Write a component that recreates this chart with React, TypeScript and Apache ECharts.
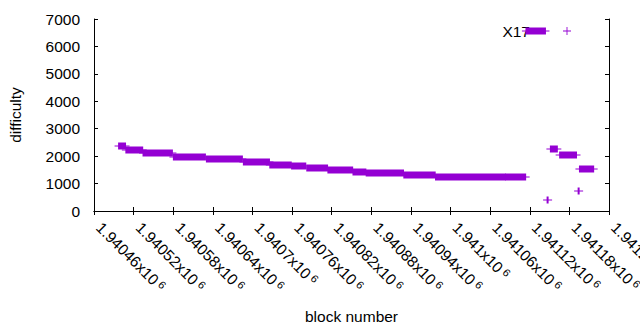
import React, { useEffect, useRef } from "react";
import * as echarts from "echarts";

// Runs of blocks sharing the same difficulty: first block, last block, difficulty
const runStartBlocks = [
  1940498, 1940509, 1940535, 1940581, 1940631, 1940687, 1940727, 1940760,
  1940783, 1940815, 1940853, 1940873, 1940930, 1940978, 1941084, 1941115,
  1941147, 1941152, 1941166, 1941194, 1941196,
];
const runEndBlocks = [
  1940507, 1940533, 1940578, 1940628, 1940684, 1940725, 1940758, 1940780,
  1940813, 1940851, 1940871, 1940928, 1940976, 1941082, 1941113, 1941143,
  1941147, 1941161, 1941190, 1941194, 1941216,
];
const runDifficulty = [
  2360, 2210, 2100, 1970, 1885, 1775, 1690, 1630,
  1555, 1485, 1410, 1370, 1300, 1255, 1230, 6580,
  390, 2250, 2030, 740, 1520,
];

const seriesName = "X17";
const xAxisTitle = "block number";
const yAxisTitle = "difficulty";
const xMin = 1940460;
const xMax = 1941240;
const xStep = 60;
const yMin = 0;
const yMax = 7000;
const yStep = 1000;

const COLOR = "#9400d3";
const FONT = "'Liberation Sans', Arial, sans-serif";
const FS = 15.5;

export default function App() {
  const ref = useRef<HTMLDivElement>(null);
  useEffect(() => {
    if (!ref.current) return;
    const chart = echarts.init(ref.current, null, { renderer: "svg" });
    const data = runStartBlocks.map((s, i) => [s, runEndBlocks[i], runDifficulty[i]]);
    const plusIcon = "path://M0,4H4V0H5V4H9V5H5V9H4V5H0Z";
    const fmtX = (v: number) => {
      const s = parseFloat((v / 1e6).toFixed(5)).toString();
      return `{m|${s}x10}{s|6}`;
    };
    chart.setOption({
      animation: false,
      color: [COLOR],
      textStyle: { fontFamily: FONT },
      grid: { left: 94, right: 31, top: 19, bottom: 119, containLabel: false, outerBoundsMode: "none" },
      legend: {
        data: [{ name: seriesName, icon: plusIcon }],
        right: 64,
        top: 18,
        z: 1,
        align: "right",
        itemWidth: 64,
        itemHeight: 8,
        symbolKeepAspect: true,
        itemStyle: { borderWidth: 0, color: COLOR },
        textStyle: { fontSize: FS, color: "#000", fontFamily: FONT },
        selectedMode: false,
      },
      xAxis: [
        {
          type: "value",
          min: xMin,
          max: xMax,
          interval: xStep,
          name: xAxisTitle,
          nameLocation: "middle",
          nameGap: 97,
          nameTextStyle: { fontSize: FS, color: "#000", fontFamily: FONT },
          axisLine: { show: true, lineStyle: { color: "#000", width: 1 } },
          axisTick: { show: true, inside: true, length: 4, lineStyle: { color: "#000" } },
          splitLine: { show: false },
          axisLabel: {
            rotate: -45,
            margin: 9,
            showMinLabel: true,
            showMaxLabel: true,
            hideOverlap: false,
            formatter: fmtX,
            padding: [0, 0, 0, 7],
            rich: {
              m: { fontSize: FS, color: "#000", fontFamily: FONT },
              s: { fontSize: 11, color: "#000", fontFamily: FONT, verticalAlign: "top", padding: [0, 0, 0, 3] },
            },
          },
        },
        {
          type: "value",
          position: "top",
          min: xMin,
          max: xMax,
          interval: xStep,
          axisLine: { show: true, lineStyle: { color: "#000", width: 1 } },
          axisTick: { show: true, inside: true, length: 4, lineStyle: { color: "#000" } },
          axisLabel: { show: false },
          splitLine: { show: false },
        },
      ],
      yAxis: [
        {
          type: "value",
          min: yMin,
          max: yMax,
          interval: yStep,
          name: yAxisTitle,
          nameLocation: "middle",
          nameGap: 71,
          nameRotate: 90,
          nameTextStyle: { fontSize: FS, color: "#000", fontFamily: FONT },
          axisLine: { show: true, lineStyle: { color: "#000", width: 1 } },
          axisTick: { show: true, inside: true, length: 4, lineStyle: { color: "#000" } },
          splitLine: { show: false },
          axisLabel: {
            margin: 14,
            fontSize: FS,
            color: "#000",
            fontFamily: FONT,
            showMinLabel: true,
            showMaxLabel: true,
            formatter: (v: number) => String(v),
          },
        },
        {
          type: "value",
          position: "right",
          min: yMin,
          max: yMax,
          interval: yStep,
          axisLine: { show: true, lineStyle: { color: "#000", width: 1 } },
          axisTick: { show: true, inside: true, length: 4, lineStyle: { color: "#000" } },
          axisLabel: { show: false },
          splitLine: { show: false },
        },
      ],
      series: [
        {
          name: seriesName,
          type: "custom",
          z: 3,
          xAxisIndex: 0,
          yAxisIndex: 0,
          itemStyle: { color: COLOR },
          encode: { x: [0, 1], y: 2 },
          data,
          renderItem: (params: any, api: any) => {
            const y = api.value(2);
            const a = api.coord([api.value(0), y]);
            const b = api.coord([api.value(1), y]);
            const yc = Math.round(a[1]);
            return {
              type: "group",
              children: [
                {
                  type: "rect",
                  shape: { x: a[0] - 1, y: yc - 3.5, width: b[0] - a[0] + 2, height: 7 },
                  style: { fill: COLOR },
                },
                {
                  type: "line",
                  shape: { x1: a[0] - 4.5, y1: yc, x2: b[0] + 4.5, y2: yc },
                  style: { stroke: COLOR, lineWidth: 1 },
                },
              ],
            };
          },
        },
      ],
    });
    return () => chart.dispose();
  }, []);
  return (
    <div
      ref={ref}
      style={{ position: "fixed", left: 0, top: 0, width: 640, height: 330, background: "#fff" }}
    />
  );
}
